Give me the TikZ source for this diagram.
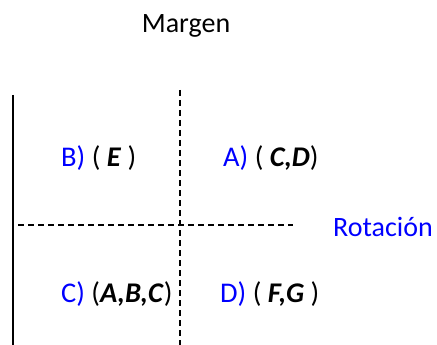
\documentclass[tikz,border=0pt]{standalone}
\usepackage{fontspec}
\setmainfont{Carlito}
\usepackage{tikz}
\usetikzlibrary{positioning}
\definecolor{LabelBlue}{RGB}{0, 0, 255}

\begin{document}
\begin{tikzpicture}[x=1pt, y=-1pt, font=\fontsize{28}{32}\selectfont,
      quad/.style={inner sep=0pt, anchor=base west, font=\fontsize{28.5}{32}\selectfont},
      axis/.style={draw=black, line width=1.2pt, dash pattern=on 6pt off 4pt},
      margin/.style={draw=black, line width=1.6pt}
    ]
      \useasboundingbox (0,0) rectangle (437,345);

      \node[inner sep=0pt, anchor=base] (margen) at (186,33) {Margen};

      % axes of the chart
      \coordinate (mtop) at (13,95);
      \coordinate (mbot) at (13,345);
      \coordinate (vtop) at (180,90);
      \coordinate (vbot) at (180,345);
      \coordinate (hleft) at (18,225);
      \coordinate (hright) at (293,225);
      \draw[margin] (mtop) -- (mbot);
      \draw[axis] (vtop) -- (vbot);
      \draw[axis] (hleft) -- (hright);

      \node[inner sep=0pt, anchor=base west, text=LabelBlue] (rot) at (333,236) {Rotación};

      % quadrants
      \node[quad] (qb) at (61,167) {\textcolor{LabelBlue}{B)} ( \textbf{\textit{E}} )};
      \node[quad] (qa) at (223,167) {\textcolor{LabelBlue}{A)} ( \textbf{\textit{C,D}})};
      \node[quad] (qc) at (61,302) {\textcolor{LabelBlue}{C)} (\textbf{\textit{A,B,C}})};
      \node[quad] (qd) at (220,302) {\textcolor{LabelBlue}{D)} ( \textbf{\textit{F,G}} )};
    \end{tikzpicture}
\end{document}
